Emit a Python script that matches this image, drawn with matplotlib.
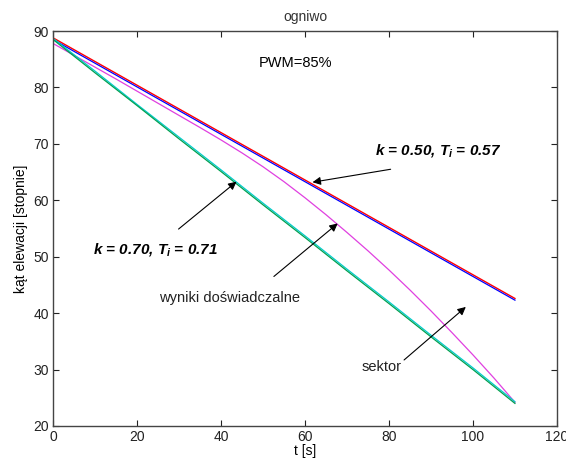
import numpy as np
import matplotlib
matplotlib.use("Agg")
import matplotlib.pyplot as plt

plt.rcParams["font.family"] = ["Liberation Sans", "DejaVu Sans"]
plt.rcParams["mathtext.fontset"] = "custom"
plt.rcParams["mathtext.it"] = "Liberation Sans:bold:italic"
plt.rcParams["mathtext.rm"] = "Liberation Sans:bold:italic"

# time axis [s] for the model lines
t = [0, 10, 20, 30, 40, 50, 60, 70, 80, 90, 100, 110]
# model k=0.50, Ti=0.57 (red / blue almost overlapping)
red = [88.8, 84.6, 80.4, 76.2, 72.0, 67.8, 63.6, 59.4, 55.2, 51.0, 46.8, 42.6]
blue = [88.5, 84.3, 80.1, 75.9, 71.7, 67.5, 63.3, 59.1, 54.9, 50.7, 46.5, 42.3]
# model k=0.70, Ti=0.71 (green / cyan almost overlapping)
cyan = [88.7, 82.9, 77.0, 71.2, 65.4, 59.5, 53.7, 47.8, 42.0, 36.1, 30.3, 24.3]
green = [88.5, 82.6, 76.8, 70.9, 65.1, 59.2, 53.4, 47.5, 41.7, 35.8, 30.0, 24.0]

# experimental results (read every 5 s)
t_exp = [0, 5, 10, 15, 20, 25, 30, 35, 40, 45, 50, 55,
         60, 65, 70, 75, 80, 85, 90, 95, 100, 105, 110]
magenta = [87.8, 85.7, 83.6, 81.5, 79.35, 77.2, 75.05, 72.9, 70.7, 68.4,
           65.95, 63.3, 60.45, 57.45, 54.3, 51.05, 47.65, 44.1, 40.4,
           36.55, 32.6, 28.5, 24.2]

fig = plt.figure(figsize=(5.66, 4.65), dpi=100)
ax = fig.add_axes([0.0936, 0.0839, 0.8904, 0.8494])

ax.plot(t, red, color="#ff0000", lw=1.0)
ax.plot(t, blue, color="#0000ff", lw=0.9)
ax.plot(t_exp, magenta, color="#e040e0", lw=0.9)
ax.plot(t, cyan, color="#00cccc", lw=0.9)
ax.plot(t, green, color="#00a050", lw=0.9)

ax.set_xlim(0, 120)
ax.set_ylim(20, 90)
ax.set_xticks(range(0, 121, 20))
ax.set_yticks(range(20, 91, 10))
ax.tick_params(direction="in", length=4, top=True, right=True,
               labelsize=10, colors="#222222", width=0.8, pad=3)
for s in ax.spines.values():
    s.set_color("#444444")
    s.set_linewidth(1.0)

ax.set_title("ogniwo", fontsize=10, color="#333333", pad=7)
ax.set_xlabel("t [s]", fontsize=10, labelpad=0)
ax.set_ylabel("kąt elewacji [stopnie]", fontsize=10, labelpad=4)

ax.text(57.7, 84.3, "PWM=85%", fontsize=10.5, ha="center", va="center")

arrow = dict(arrowstyle="-|>", color="black", lw=0.8, mutation_scale=12,
             shrinkA=0, shrinkB=0)

ax.annotate("", xy=(61.8, 63.2), xytext=(80.4, 65.5), arrowprops=arrow)
ax.text(91.7, 68.9, "k = 0.50, $T_i$ = 0.57", fontsize=11, fontweight="bold",
        style="italic", ha="center", va="center")

ax.annotate("", xy=(43.7, 63.3), xytext=(29.9, 54.9), arrowprops=arrow)
ax.text(24.5, 51.3, "k = 0.70, $T_i$ = 0.71", fontsize=11, fontweight="bold",
        style="italic", ha="center", va="center")

ax.annotate("", xy=(67.8, 55.9), xytext=(52.6, 46.5), arrowprops=arrow)
ax.text(42.0, 42.7, "wyniki doświadczalne", fontsize=10.5,
        ha="center", va="center", color="#222222")

ax.annotate("", xy=(98.3, 41.1), xytext=(83.6, 31.7), arrowprops=arrow)
ax.text(78.2, 30.5, "sektor", fontsize=10.5, ha="center", va="center",
        color="#222222")

fig.savefig("out.png", dpi=100)
